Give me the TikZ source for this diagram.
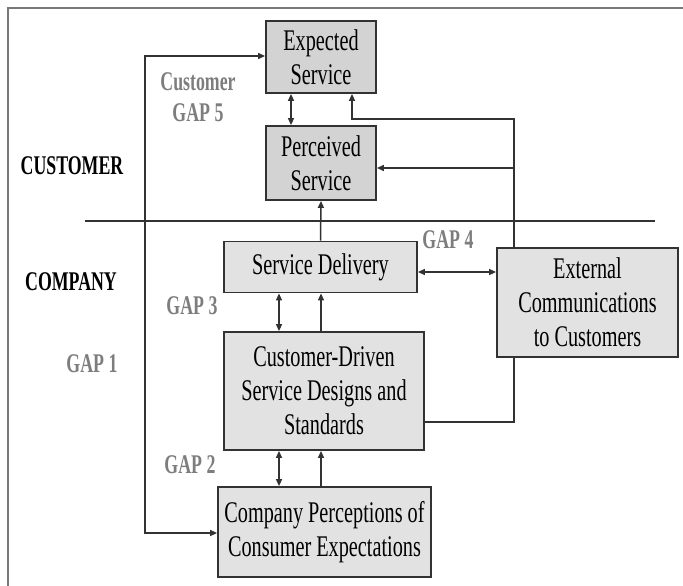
\documentclass[tikz,border=0pt]{standalone}
\usepackage{fontspec}
\usepackage{xcolor}
\usetikzlibrary{arrows.meta}
\newfontfamily\gapfont{Liberation Serif}[FakeStretch=0.675]
\newfontfamily\sidefont{Liberation Serif}[FakeStretch=0.66]
\definecolor{boxdark}{RGB}{211,211,211}
\definecolor{boxlight}{RGB}{226,226,226}
\definecolor{gapgray}{RGB}{125,125,125}
\definecolor{linegray}{RGB}{50,50,50}
\definecolor{framegray}{RGB}{120,120,120}

\begin{document}
\begin{tikzpicture}[x=1pt,y=-1pt,
    gapbox/.style={draw=linegray,line width=1.8pt,align=center,inner sep=0pt,
        font=\gapfont\fontsize{30}{34}\selectfont},
    topbox/.style={gapbox,fill=boxdark},
    lowbox/.style={gapbox,fill=boxlight},
    side/.style={font=\sidefont\bfseries\fontsize{27}{31}\selectfont,align=center},
    gaplabel/.style={side,text=gapgray},
    link/.style={draw=linegray,line width=1.5pt},
    arr/.style={link,-{Triangle[length=7pt,width=6pt]}},
    dbl/.style={link,{Triangle[length=7pt,width=6pt]}-{Triangle[length=7pt,width=6pt]}}]
    \useasboundingbox (0,0) rectangle (683,586);
    \draw[framegray,line width=1.5pt] (683,8) -- (8,8) -- (8,586);

    % boxes
    \node[topbox,minimum width=110pt,minimum height=72pt] (exp) at (321,57) {Expected\\Service};
    \node[topbox,minimum width=110pt,minimum height=74pt] (perc) at (321,163) {Perceived\\Service};
    \node[lowbox,minimum width=193pt,minimum height=51pt] (deliv) at (320.5,267) {Service Delivery};
    \node[lowbox,minimum width=181pt,minimum height=109pt] (ext) at (587.5,302.5) {External\\Communications\\to Customers};
    \node[lowbox,minimum width=200pt,minimum height=118pt] (design) at (324,391) {Customer-Driven\\Service Designs and\\Standards};
    \node[lowbox,minimum width=213pt,minimum height=90pt] (percep) at (324.5,532) {Company Perceptions of\\Consumer Expectations};

    % side texts
    \node[side] (cust) at (72,166) {CUSTOMER};
    \node[side] (comp) at (71,282) {COMPANY};
    \node[gaplabel] (gap5) at (198,97) {Customer\\GAP\,5};
    \node[gaplabel] (gap1) at (92,364) {GAP\,1};
    \node[gaplabel] (gap2) at (190,465) {GAP\,2};
    \node[gaplabel] (gap3) at (192,306) {GAP\,3};
    \node[gaplabel] (gap4) at (448,240) {GAP\,4};

    % divider
    \coordinate (divl) at (85,221);
    \coordinate (divr) at (655,221);
    \draw[linegray,line width=1.6pt] (divl) -- (divr);

    % helper points for the connectors
    \coordinate (gcol) at (291,0);
    \coordinate (ecol) at (352,0);
    \coordinate (lcol) at (279,0);
    \coordinate (rcol) at (321,0);
    \coordinate (rtop) at (514,119);
    \coordinate (rmid) at (514,168);
    \coordinate (rbot) at (514,422);
    \coordinate (ltop) at (145,56);
    \coordinate (lbot) at (145,533);
    \coordinate (mid4) at (456,272);

    % connectors
    \draw[dbl] (exp.south -| gcol) -- (perc.north -| gcol);
    \draw[arr] (deliv.north) -- (perc.south);
    \draw[arr] (ext.north -| rtop) -- (rtop) -| (exp.south -| ecol);
    \draw[arr] (rmid) -- (rmid -| perc.east);
    \draw[link] (ext.south -| rbot) -- (rbot) -- (rbot -| design.east);
    \draw[dbl] (mid4 -| deliv.east) -- (mid4 -| ext.west);
    \foreach \upper/\lower in {deliv/design, design/percep} {
        \draw[dbl] (\upper.south -| lcol) -- (\lower.north -| lcol);
        \draw[arr] (\lower.north -| rcol) -- (\upper.south -| rcol);
    }
    \draw[dbl] (ltop -| exp.west) -- (ltop) -- (lbot) -- (lbot -| percep.west);
\end{tikzpicture}
\end{document}
